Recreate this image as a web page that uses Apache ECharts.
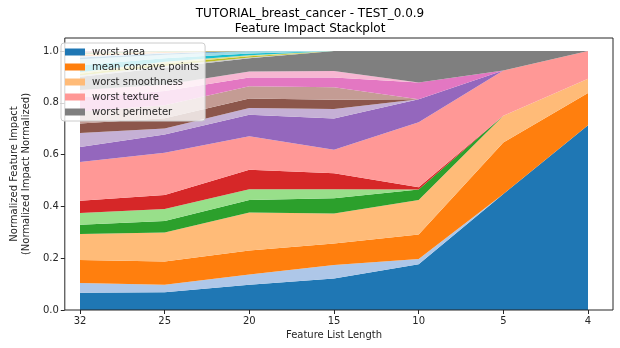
<!DOCTYPE html>
<html><head><meta charset="utf-8">
<script src="https://cdn.jsdelivr.net/npm/echarts@6/dist/echarts.min.js"></script>
<style>html,body{margin:0;padding:0;background:#fff}#c{width:620px;height:348px}</style>
</head><body><div id="c"></div>
<script>
// x categories (feature list length)
const featureLengths = ['32', '25', '20', '15', '10', '5', '4'];
const yTicks = [0, 0.2, 0.4, 0.6, 0.8, 1.0];

// stacked layers, bottom to top (values per feature list length)
const worstArea         = [0.067, 0.069, 0.097, 0.122, 0.177, 0.448, 0.713];
const feature02         = [0.037, 0.028, 0.040, 0.052, 0.020, 0, 0];
const meanConcavePoints = [0.089, 0.090, 0.093, 0.083, 0.094, 0.199, 0.125];
const worstSmoothness   = [0.100, 0.112, 0.146, 0.116, 0.134, 0.103, 0.055];
const feature05         = [0.036, 0.045, 0.049, 0.058, 0.040, 0, 0];
const feature06         = [0.045, 0.046, 0.041, 0.035, 0, 0, 0];
const feature07         = [0.048, 0.054, 0.075, 0.062, 0.009, 0, 0];
const worstTexture      = [0.149, 0.163, 0.130, 0.091, 0.251, 0.175, 0.107];
const feature09         = [0.058, 0.070, 0.083, 0.120, 0.089, 0, 0];
const feature10         = [0.054, 0.024, 0.026, 0.037, 0, 0, 0];
const feature11         = [0.037, 0.039, 0.036, 0.036, 0, 0, 0];
const feature12         = [0.046, 0.050, 0.048, 0.048, 0, 0, 0];
const feature13         = [0.054, 0.055, 0.034, 0.038, 0.064, 0, 0];
const feature14         = [0.029, 0.025, 0.023, 0.025, 0, 0, 0];
const worstPerimeter    = [0.051, 0.065, 0.051, 0.077, 0.122, 0.075, 0];
const feature16         = [0.005, 0.007, 0.003, 0, 0, 0, 0];
const feature17         = [0.007, 0.010, 0.005, 0, 0, 0, 0];
const feature18         = [0.006, 0.006, 0.003, 0, 0, 0, 0];
const feature19         = [0.027, 0.014, 0.007, 0, 0, 0, 0];
const feature20         = [0.023, 0.013, 0.010, 0, 0, 0, 0];
const feature21         = [0.007, 0.005, 0, 0, 0, 0, 0];
const feature22         = [0.005, 0.003, 0, 0, 0, 0, 0];
const feature23         = [0.004, 0.003, 0, 0, 0, 0, 0];
const feature24         = [0.004, 0.002, 0, 0, 0, 0, 0];
const feature25         = [0.003, 0.002, 0, 0, 0, 0, 0];
const feature26         = [0.002, 0, 0, 0, 0, 0, 0];
const feature27         = [0.002, 0, 0, 0, 0, 0, 0];
const feature28         = [0.002, 0, 0, 0, 0, 0, 0];
const feature29         = [0.001, 0, 0, 0, 0, 0, 0];
const feature30         = [0.001, 0, 0, 0, 0, 0, 0];
const feature31         = [0.0005, 0, 0, 0, 0, 0, 0];
const feature32         = [0.0005, 0, 0, 0, 0, 0, 0];

const layerNames = ['worst area', '_f02', 'mean concave points', 'worst smoothness', '_f05', '_f06', '_f07',
  'worst texture', '_f09', '_f10', '_f11', '_f12', '_f13', '_f14', 'worst perimeter', '_f16', '_f17', '_f18',
  '_f19', '_f20', '_f21', '_f22', '_f23', '_f24', '_f25', '_f26', '_f27', '_f28', '_f29', '_f30', '_f31', '_f32'];
const layerValues = [worstArea, feature02, meanConcavePoints, worstSmoothness, feature05, feature06, feature07,
  worstTexture, feature09, feature10, feature11, feature12, feature13, feature14, worstPerimeter, feature16,
  feature17, feature18, feature19, feature20, feature21, feature22, feature23, feature24, feature25, feature26,
  feature27, feature28, feature29, feature30, feature31, feature32];
const legendNames = ['worst area', 'mean concave points', 'worst smoothness', 'worst texture', 'worst perimeter'];

const tab20 = ['#1f77b4', '#aec7e8', '#ff7f0e', '#ffbb78', '#2ca02c', '#98df8a', '#d62728', '#ff9896',
  '#9467bd', '#c5b0d5', '#8c564b', '#c49c94', '#e377c2', '#f7b6d2', '#7f7f7f', '#c7c7c7',
  '#bcbd22', '#dbdb8d', '#17becf', '#9edae5'];

const FONT = 'DejaVu Sans';
const TXT = '#262626';
const chart = echarts.init(document.getElementById('c'), null, {renderer: 'canvas'});

const series = layerNames.map((name, i) => ({
  name: name,
  type: 'line',
  stack: 'impact',
  xAxisIndex: 1,
  yAxisIndex: 1,
  data: layerValues[i],
  symbol: 'none',
  showSymbol: false,
  lineStyle: {width: 0, opacity: 0},
  areaStyle: {color: tab20[i % 20], opacity: 1},
  itemStyle: {color: tab20[i % 20]},
  silent: true,
  z: 2
}));

chart.setOption({
  animation: false,
  textStyle: {fontFamily: FONT},
  title: {
    text: 'TUTORIAL_breast_cancer - TEST_0.0.9\nFeature Impact Stackplot',
    left: 'center',
    top: 2,
    padding: [4, 5, 4, 53],
    textStyle: {fontFamily: FONT, fontSize: 12, fontWeight: 'normal', color: '#000', lineHeight: 15}
  },
  legend: {
    data: legendNames.map(n => ({name: n, icon: 'rect'})),
    orient: 'vertical',
    left: 61,
    top: 43,
    itemWidth: 20,
    itemHeight: 7,
    itemGap: 5,
    padding: [4, 6, 4, 4],
    backgroundColor: 'rgba(255,255,255,0.8)',
    borderColor: '#cccccc',
    borderWidth: 1,
    borderRadius: 3,
    selectedMode: false,
    textStyle: {fontFamily: FONT, fontSize: 10, color: TXT, padding: [0, 0, 0, 2]},
    z: 10
  },
  grid: [
    {left: 55, right: 7, top: 38, bottom: 38, show: true, borderColor: '#262626', borderWidth: 1, backgroundColor: 'transparent', z: 5},
    {left: 80, right: 32, top: 38, bottom: 38}
  ],
  xAxis: [
    {gridIndex: 0, type: 'value', show: false, min: 0, max: 1},
    {
      gridIndex: 1, type: 'category', data: featureLengths, boundaryGap: false,
      axisLine: {show: false},
      axisTick: {show: true, length: 4, lineStyle: {color: '#262626'}, alignWithLabel: true},
      axisLabel: {fontFamily: FONT, fontSize: 10, color: TXT, margin: 6},
      splitLine: {show: false},
      name: 'Feature List Length', nameLocation: 'middle', nameGap: 20,
      nameTextStyle: {fontFamily: FONT, fontSize: 10, color: TXT}
    }
  ],
  yAxis: [
    {
      gridIndex: 0, type: 'value', min: 0, max: 1.05,
      axisLine: {show: false},
      axisTick: {show: true, length: 4, customValues: yTicks, lineStyle: {color: '#262626'}},
      axisLabel: {customValues: yTicks, fontFamily: FONT, fontSize: 10, color: TXT, margin: 6,
        formatter: v => v.toFixed(1)},
      splitLine: {show: false},
      name: 'Normalized Feature Impact\n(Normalized Impact Normalized)',
      nameLocation: 'middle', nameGap: 29, nameRotate: 90,
      nameTextStyle: {fontFamily: FONT, fontSize: 10, color: TXT, lineHeight: 12}
    },
    {gridIndex: 1, type: 'value', min: 0, max: 1.05, show: false}
  ],
  series: series
});
</script></body></html>
